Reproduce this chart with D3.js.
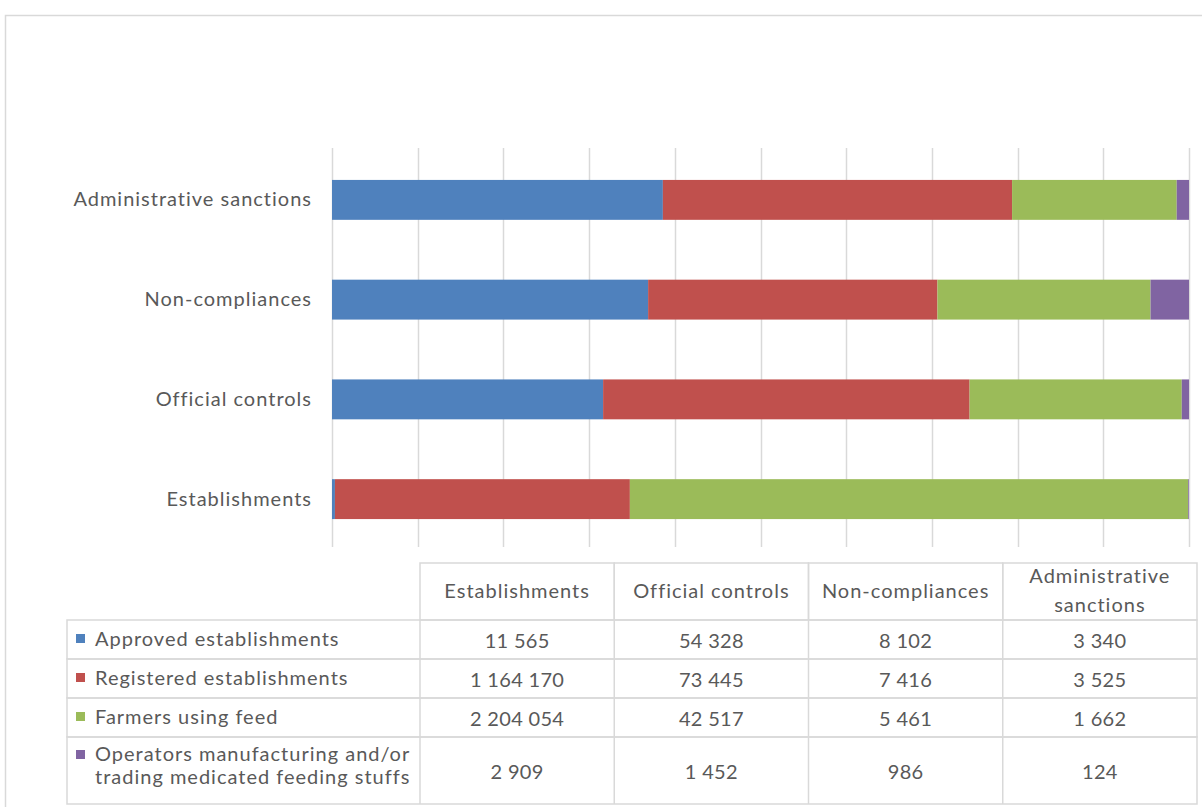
<!DOCTYPE html>
<html>
<head>
<meta charset="utf-8">
<script src="https://cdn.jsdelivr.net/npm/d3@7"></script>
<style>
  html, body { margin: 0; padding: 0; background: #fff; }
  svg text { font-family: Lato, "Open Sans", sans-serif; fill: #595959; font-size: 20px; letter-spacing: 1px; }
  svg text.num { letter-spacing: 0.3px; }
</style>
</head>
<body>
<svg id="chart" width="1202" height="807"></svg>
<script>
// Categories (bottom to top in the chart, left to right in the table)
const categories = ["Establishments", "Official controls", "Non-compliances", "Administrative sanctions"];

// Series names
const seriesNames = [
  "Approved establishments",
  "Registered establishments",
  "Farmers using feed",
  "Operators manufacturing and/or trading medicated feeding stuffs"
];

// Series values, one per category
const approved   = [11565, 54328, 8102, 3340];
const registered = [1164170, 73445, 7416, 3525];
const farmers    = [2204054, 42517, 5461, 1662];
const operators  = [2909, 1452, 986, 124];

const seriesValues = [approved, registered, farmers, operators];
const colors = ["#4F81BD", "#C0504D", "#9BBB59", "#8064A2"];

// Percent gridline ticks
const ticks = [0, 0.1, 0.2, 0.3, 0.4, 0.5, 0.6, 0.7, 0.8, 0.9, 1];

const svg = d3.select("#chart");

// Outer chart frame
svg.append("rect")
  .attr("x", 5.5).attr("y", 15.5)
  .attr("width", 1220).attr("height", 820)
  .attr("fill", "none").attr("stroke", "#d9d9d9").attr("stroke-width", 1.5);

// Plot area
const plot = { left: 332, right: 1189, top: 148, bottom: 547 };

const x = d3.scaleLinear().domain([0, 1]).range([plot.left, plot.right]);
const y = d3.scaleBand()
  .domain(categories.slice().reverse())
  .range([plot.top + 2, plot.bottom + 2])
  .paddingInner(0.6).paddingOuter(0.3);

// Build rows for stacking
const rows = categories.map((c, i) => {
  const row = { category: c };
  seriesNames.forEach((s, j) => { row[s] = seriesValues[j][i]; });
  return row;
});

const stack = d3.stack().keys(seriesNames).offset(d3.stackOffsetExpand);
const stacked = stack(rows);

// Vertical gridlines
svg.append("g").selectAll("line")
  .data(ticks)
  .join("line")
  .attr("x1", d => Math.round(x(d)) + 0.5)
  .attr("x2", d => Math.round(x(d)) + 0.5)
  .attr("y1", plot.top).attr("y2", plot.bottom)
  .attr("stroke", "#d9d9d9").attr("stroke-width", 1.5);

// Stacked bars
svg.append("g").selectAll("g")
  .data(stacked)
  .join("g")
  .attr("fill", (d, i) => colors[i])
  .selectAll("rect")
  .data(d => d)
  .join("rect")
  .attr("x", d => x(d[0]))
  .attr("width", d => Math.max(0, x(d[1]) - x(d[0])))
  .attr("y", d => y(d.data.category))
  .attr("height", y.bandwidth());

// Category labels
const yAxis = d3.axisLeft(y).tickSize(0).tickPadding(20);
const yg = svg.append("g").attr("transform", `translate(${plot.left},0)`).call(yAxis);
yg.select(".domain").remove();
yg.selectAll("text")
  .style("font-family", "Lato, sans-serif")
  .style("font-size", "20px")
  .attr("fill", "#595959");

// Data table
const fmt = d3.formatLocale({ decimal: ".", thousands: " ", grouping: [3], currency: ["", ""] }).format(",d");

const table = {
  labelLeft: 67, colLeft: 420, colRight: 1197,
  headerTop: 563, headerBottom: 620,
  rowBottoms: [659, 698, 737, 804]
};
const colX = d3.scaleBand().domain(categories).range([table.colLeft, table.colRight]);
const gridColor = "#d9d9d9";
const tg = svg.append("g");

// Header cells
categories.forEach(c => {
  tg.append("rect")
    .attr("x", colX(c)).attr("y", table.headerTop)
    .attr("width", colX.bandwidth()).attr("height", table.headerBottom - table.headerTop)
    .attr("fill", "none").attr("stroke", gridColor).attr("stroke-width", 1.5);
});

const headerLines = {
  "Establishments": ["Establishments"],
  "Official controls": ["Official controls"],
  "Non-compliances": ["Non-compliances"],
  "Administrative sanctions": ["Administrative", "sanctions"]
};
categories.forEach(c => {
  const lines = headerLines[c];
  const cy = (table.headerTop + table.headerBottom) / 2 - 2;
  lines.forEach((ln, k) => {
    tg.append("text")
      .attr("x", colX(c) + colX.bandwidth() / 2)
      .attr("y", cy + (k - (lines.length - 1) / 2) * 29)
      .attr("text-anchor", "middle").attr("dominant-baseline", "central")
      .text(ln);
  });
});

// Body rows
const rowTops = [table.headerBottom].concat(table.rowBottoms.slice(0, -1));
const labelLines = [
  ["Approved establishments"],
  ["Registered establishments"],
  ["Farmers using feed"],
  ["Operators manufacturing and/or", "trading medicated feeding stuffs"]
];
seriesNames.forEach((s, j) => {
  const top = rowTops[j], bottom = table.rowBottoms[j];
  const cy = (top + bottom) / 2;
  tg.append("rect")
    .attr("x", table.labelLeft).attr("y", top)
    .attr("width", table.colRight - table.labelLeft).attr("height", bottom - top)
    .attr("fill", "none").attr("stroke", gridColor).attr("stroke-width", 1.5);
  tg.append("rect")
    .attr("x", 76).attr("y", j === 3 ? top + 13 : cy - 5.5)
    .attr("width", 9).attr("height", 9)
    .attr("fill", colors[j]);
  const lines = labelLines[j];
  lines.forEach((ln, k) => {
    tg.append("text")
      .attr("x", 95)
      .attr("y", lines.length > 1 ? top + 16 + k * 23 : cy - 2)
      .attr("dominant-baseline", "central")
      .text(ln);
  });
  categories.forEach((c, i) => {
    tg.append("text")
      .attr("class", "num")
      .attr("x", colX(c) + colX.bandwidth() / 2)
      .attr("y", cy)
      .attr("text-anchor", "middle").attr("dominant-baseline", "central")
      .text(fmt(seriesValues[j][i]));
  });
});

// Vertical column separators in the body
categories.forEach(c => {
  tg.append("line")
    .attr("x1", colX(c)).attr("x2", colX(c))
    .attr("y1", table.headerBottom).attr("y2", table.rowBottoms[3])
    .attr("stroke", gridColor).attr("stroke-width", 1.5);
});
</script>
</body>
</html>
